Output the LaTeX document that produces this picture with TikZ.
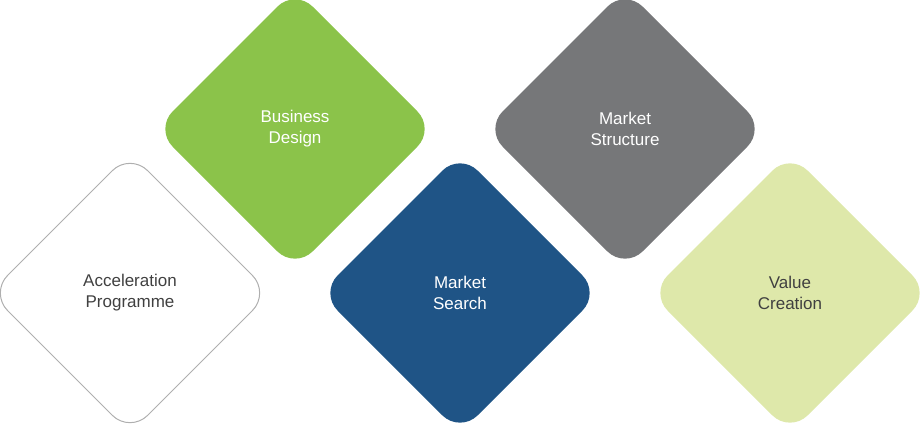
\documentclass[tikz,border=0pt]{standalone}
\usepackage{fontspec}
\setmainfont{Liberation Sans}
\usetikzlibrary{positioning}

\definecolor{leaf}{RGB}{139,195,74}
\definecolor{navy}{RGB}{31,84,134}
\definecolor{slate}{RGB}{118,119,121}
\definecolor{pale}{RGB}{222,232,170}
\definecolor{rim}{RGB}{175,175,175}
\definecolor{ink}{RGB}{64,64,64}

\tikzset{
	tile/.style={rectangle, minimum size=198pt, rotate=45, rounded corners=25pt, inner sep=0pt},
	caption/.style={align=center, font=\fontsize{17}{21}\selectfont, text=white},
}

\begin{document}
\begin{tikzpicture}[x=1pt,y=1pt]
\useasboundingbox (0,0) rectangle (920,-424);

% TILES
\node[tile,draw=rim,line width=1pt] (ap) at (130,-293) {};
\node[tile,fill=leaf] (bd) at (295,-129) {};
\node[tile,fill=navy] (ms) at (460,-293) {};
\node[tile,fill=slate] (mt) at (625,-129) {};
\node[tile,fill=pale] (vc) at (790,-293) {};

% TEXTS
\node[caption,text=ink] at (ap.center) {Acceleration\\Programme};
\node[caption] at (bd.center) {Business\\Design};
\node[caption] at (ms.center) {Market\\Search};
\node[caption] at (mt.center) {Market\\Structure};
\node[caption,text=ink] at (vc.center) {Value\\Creation};

\end{tikzpicture}
\end{document}
